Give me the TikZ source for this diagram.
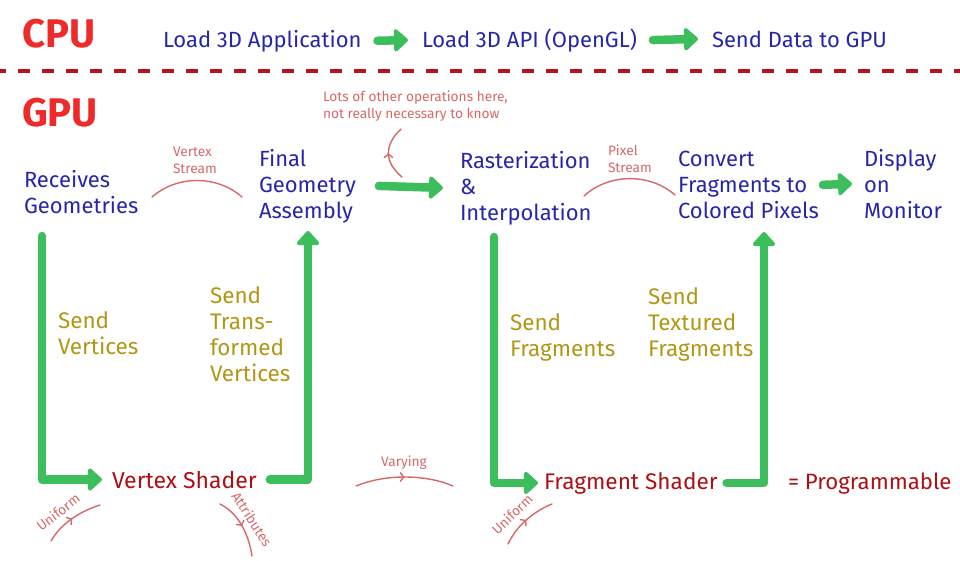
\documentclass[tikz,border=0pt]{standalone}
\usepackage{fontspec}
\setmainfont{Fira Sans}
\usetikzlibrary{arrows.meta,decorations.markings,calc}
\definecolor{cpured}{RGB}{238,42,42}
\definecolor{sepred}{RGB}{180,22,26}
\definecolor{stageblue}{RGB}{38,38,168}
\definecolor{olivetext}{RGB}{178,150,22}
\definecolor{shred}{RGB}{172,16,20}
\definecolor{annot}{RGB}{214,104,104}
\definecolor{grn}{RGB}{60,190,92}
\begin{document}
\begin{tikzpicture}[x=1pt,y=-1pt,
 every node/.style={inner sep=0pt,outer sep=0pt},
 big/.style={text=cpured,font=\fontsize{40}{40}\selectfont\bfseries},
 stage/.style={text=stageblue,font=\fontsize{22}{26}\selectfont,align=left},
 sendlbl/.style={text=olivetext,font=\fontsize{22.5}{26}\selectfont,align=left},
 shader/.style={text=shred,font=\fontsize{23}{26}\selectfont},
 note/.style={text=annot,font=\fontsize{13.7}{17}\selectfont,align=left},
 garrow/.style={draw=grn,line width=8.5pt,line cap=round,line join=round,-{Triangle[length=15pt,width=26pt,round]}},
 curve/.style={draw=annot,line width=1.4pt,line cap=round},
 midarrow/.style={postaction={decorate},decoration={markings,mark=at position 0.5 with {\arrow{Straight Barb[length=3.5pt,width=9pt,line width=1.4pt]}}}},
 sep/.style={draw=sepred,line width=4pt,dash pattern=on 12pt off 12pt,dash phase=6pt}
]
\useasboundingbox (0,0) rectangle (960,560);
% titles
\node[big,anchor=base west] (cpu) at (22,47) {CPU};
\node[big,anchor=base west] (gpu) at (22,126) {GPU};
\coordinate (sepL) at (0,71);
\coordinate (sepR) at (960,71);
\draw[sep] (sepL) -- (sepR);
% CPU row
\node[stage,anchor=base west] (app) at (163,47) {Load 3D Application};
\node[stage,anchor=base west] (api) at (422,47) {Load 3D API (OpenGL)};
\node[stage,anchor=base west] (snd) at (712,47) {Send Data to GPU};
\draw[garrow] ([xshift=16pt]app.east) -- ([xshift=-14pt]api.west);
\draw[garrow] ([xshift=16pt]api.east) -- ([xshift=-14pt]snd.west);
% GPU row
\node[stage,anchor=north west] (recv) at (24,170) {Receives\\Geometries};
\node[stage,anchor=north west] (fga) at (259,149) {Final\\Geometry\\Assembly};
\node[stage,anchor=north west] (rast) at (460,151) {Rasterization\\\&\\Interpolation};
\node[stage,anchor=north west] (conv) at (678,151) {Convert\\Fragments to\\Colored Pixels};
\node[stage,anchor=north west] (disp) at (864,149) {Display\\on\\Monitor};
\draw[garrow] ([xshift=23pt]fga.east) -- ([xshift=-17pt]rast.west);
\draw[garrow] ([xshift=4pt]conv.east) -- ([xshift=-12pt]disp.west);
% shaders
\node[shader,anchor=base west] (vs) at (112,488) {Vertex Shader};
\node[shader,anchor=base west,font=\fontsize{22.6}{26}\selectfont] (fs) at (544,489) {Fragment Shader};
\node[shader,anchor=base west,font=\fontsize{22.2}{26}\selectfont] (prog) at (788,489) {= Programmable};
\coordinate (rvdown) at (42,236);
\coordinate (fgin) at (308,231);
\coordinate (radown) at (494,237);
\coordinate (cvin) at (764,232);
\draw[garrow] (rvdown) |- ([xshift=-10pt]vs.west);
\draw[garrow] ([xshift=13pt]vs.east) -| (fgin);
\draw[garrow] (radown) |- ([xshift=-6pt]fs.west);
\draw[garrow] ([xshift=9pt]fs.east) -| (cvin);
% send labels
\node[sendlbl,anchor=north west] (sv) at (58,312) {Send\\Vertices};
\node[sendlbl,anchor=north west] (stv) at (210,287) {Send\\Trans-\\formed\\Vertices};
\node[sendlbl,anchor=north west] (sf) at (510,314) {Send\\Fragments};
\node[sendlbl,anchor=north west] (stf) at (648,288) {Send\\Textured\\Fragments};
% annotations
\node[note,anchor=north west] (ops) at (323,91) {Lots of other operations here,\\not really necessary to know};
\coordinate (opsA) at (402,177);
\coordinate (opsB) at (401,129);
\draw[curve,midarrow] (opsA) .. controls (384,162) and (384,145) .. (opsB);
\node[note,anchor=north west] (vstr) at (173,147) {Vertex\\Stream};
\coordinate (vsa) at (152,197);
\coordinate (vsb) at (242,197);
\draw[curve] (vsa) .. controls (177,175) and (217,175) .. (vsb);
\node[note,anchor=north west] (pstr) at (608,145) {Pixel\\Stream};
\coordinate (psa) at (584,196);
\coordinate (psb) at (675,195);
\draw[curve] (psa) .. controls (609,173) and (650,173) .. (psb);
\node[note,anchor=base] (vary) at (404,466) {Varying};
\coordinate (vya) at (356,486);
\coordinate (vyb) at (453,486);
\draw[curve,midarrow] (vya) .. controls (385,474) and (425,474) .. (vyb);
\node[note,rotate=38] (uni1) at (58,512) {Uniform};
\coordinate (u1a) at (51,541);
\coordinate (u1b) at (100,505);
\draw[curve,midarrow] (u1a) .. controls (60,525) and (78,512) .. (u1b);
\node[note,rotate=-57] (attr) at (252,519) {Attributes};
\coordinate (ata) at (220,504);
\coordinate (atb) at (252,556);
\draw[curve,midarrow] (ata) .. controls (236,512) and (248,530) .. (atb);
\node[note,rotate=44] (uni2) at (512,514) {Uniform};
\coordinate (u2a) at (508,544);
\coordinate (u2b) at (552,504);
\draw[curve,midarrow] (u2a) .. controls (516,527) and (532,512) .. (u2b);
\end{tikzpicture}
\end{document}
